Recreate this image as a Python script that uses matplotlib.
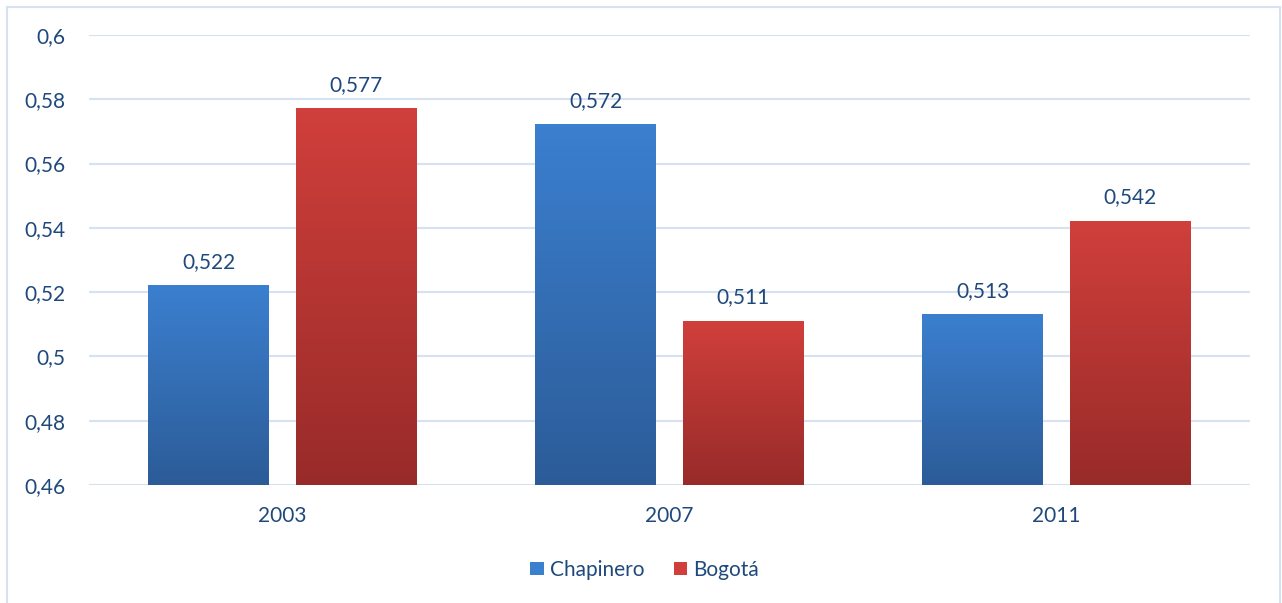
import numpy as np
import matplotlib.pyplot as plt
from matplotlib.patches import Rectangle, Patch
from matplotlib.colors import LinearSegmentedColormap

years = ['2003', '2007', '2011']
series = ['Chapinero', 'Bogotá']
chapinero = [0.522, 0.572, 0.513]
bogota = [0.577, 0.511, 0.542]
yticks = [0.46, 0.48, 0.50, 0.52, 0.54, 0.56, 0.58, 0.60]
ytick_labels = ['0,46', '0,48', '0,5', '0,52', '0,54', '0,56', '0,58', '0,6']

txt = '#1F497D'
grid = '#D6E2F2'
grads = [('#3B7FCF', '#2C5C98'), ('#D03F3B', '#982B29')]

plt.rcParams['font.family'] = ['Lato', 'DejaVu Sans']

f = plt.figure(figsize=(12.82, 6.03), dpi=100)
ax = f.add_axes([0.0694, 0.1957, 0.9056, 0.7463])

x = np.arange(len(years))
w = 0.3126
off = 0.191

for vals, o, (top, bot) in zip([chapinero, bogota], [-off, off], grads):
    bars = ax.bar(x + o, np.array(vals) - 0.46, w, bottom=0.46, color='none', zorder=3)
    cmap = LinearSegmentedColormap.from_list('g', [bot, top])
    for b, v in zip(bars, vals):
        x0 = b.get_x()
        ax.imshow(np.linspace(0, 1, 100).reshape(-1, 1), cmap=cmap, origin='lower',
                  extent=[x0, x0 + b.get_width(), 0.46, v], aspect='auto', zorder=3)
        ax.annotate(f'{v:.3f}'.replace('.', ','), (x0 + b.get_width() / 2, v),
                    xytext=(0, 10), textcoords='offset points', ha='center', va='bottom',
                    fontsize=15, color=txt)

ax.set_xlim(-0.5, 2.5)
ax.set_ylim(0.46, 0.6)
ax.set_yticks(yticks)
ax.set_yticklabels(ytick_labels)
ax.set_xticks(x)
ax.set_xticklabels(years)
ax.tick_params(axis='both', length=0, labelsize=15, labelcolor=txt)
ax.tick_params(axis='y', pad=17)
ax.tick_params(axis='x', pad=15)
ax.yaxis.grid(True, color=grid, lw=1.5, zorder=0)
for s in ax.spines.values():
    s.set_visible(False)

handles = [Patch(facecolor=c[0], edgecolor='none') for c in grads]
f.legend(handles, series, loc='center', bbox_to_anchor=(0.503, 0.055), ncol=2,
         frameon=False, fontsize=15, labelcolor=txt, handlelength=0.65, handleheight=0.65,
         handletextpad=0.3, columnspacing=1.4)

f.patches.append(Rectangle((7 / 1282, -0.01), 1273 / 1282, 1 - 7 / 603 + 0.01,
                           transform=f.transFigure, fill=False, edgecolor=grid, lw=1.5))

f.savefig('out.png', dpi=100)
plt.close(f)
